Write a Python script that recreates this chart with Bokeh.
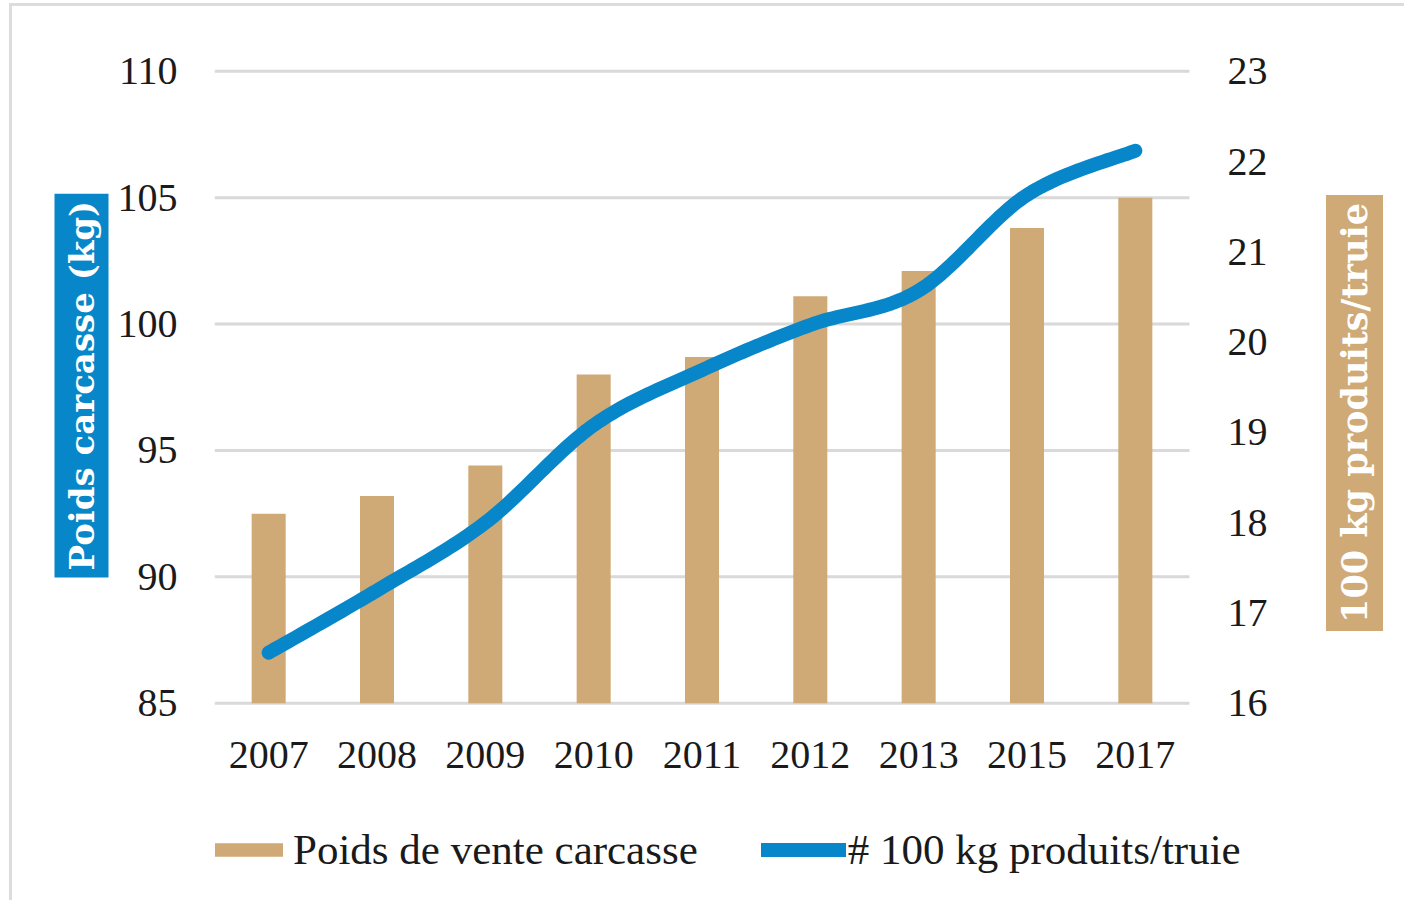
import numpy as np
from bokeh.plotting import figure
from bokeh.models import (Range1d, FixedTicker, Title, Label, Legend, LegendItem)
from bokeh.core.properties import value
from bokeh.embed import file_html
from bokeh.resources import INLINE

years = ["2007", "2008", "2009", "2010", "2011", "2012", "2013", "2015", "2017"]
poids = [92.5, 93.2, 94.4, 98.0, 98.7, 101.1, 102.1, 103.8, 105.0]
produits = [16.56, 17.25, 18.0, 19.08, 19.69, 20.19, 20.57, 21.63, 22.12]
left_ticks = [85, 90, 95, 100, 105, 110]
right_ticks = [16, 17, 18, 19, 20, 21, 22, 23]

TAN = "#CFA976"
BLUE = "#0787C9"
GRID = "#D9D9D9"
SERIF = "Liberation Serif"

W, H = 1395, 897
CANVAS_TOP = 7                        # page offset of the canvas
TOP, BOTTOM, LEFT, RIGHT = 20, 8, 202, 0
Y110 = 71.75                          # pixel row of the 110 grid line
PX = 632 / 25.0                       # pixels per left-axis unit
PXX = 975 / 9.0                       # pixels per category
FRAME_H = H - TOP - BOTTOM
FRAME_W = W - LEFT - RIGHT
y_top = 110 + (Y110 - (CANVAS_TOP + TOP)) / PX
y_bot = y_top - FRAME_H / PX
to_right = lambda v: 16 + (v - 85) * 7 / 25.0
n_cat = len(years)

xs = [i + 0.5 for i in range(n_cat)]

p = figure(width=W, height=H, output_backend="svg", toolbar_location=None,
           x_range=Range1d(0, FRAME_W / PXX), y_range=Range1d(y_bot, y_top),
           min_border_left=LEFT, min_border_right=RIGHT, min_border_top=TOP,
           min_border_bottom=BOTTOM)
p.styles = {"border-top": "3px solid #DCDCDC", "border-left": "3px solid #DCDCDC",
            "margin-left": "9px", "margin-top": "3px"}
p.outline_line_color = None
p.background_fill_color = "white"
p.border_fill_color = "white"
p.extra_y_ranges = {"right": Range1d(to_right(y_bot), to_right(y_top))}

# horizontal grid lines across the category area
p.segment(x0=[0] * len(left_ticks), x1=[n_cat] * len(left_ticks), y0=left_ticks, y1=left_ticks,
          line_color=GRID, line_width=3)

bars = p.vbar(x=xs, top=poids, bottom=85, width=0.314, fill_color=TAN, line_color=None)

# smoothed line (Catmull-Rom Bezier through the data points, like Excel's smoothing)
pts = np.column_stack([xs, produits])
n = len(pts)
cx, cy = [], []
for i in range(n - 1):
    p0 = pts[i - 1] if i > 0 else pts[i]
    p1, p2 = pts[i], pts[i + 1]
    p3 = pts[i + 2] if i + 2 < n else pts[i + 1]
    c1 = p1 + (p2 - p0) / 6.0
    c2 = p2 - (p3 - p1) / 6.0
    ts = np.linspace(0, 1, 25) if i == n - 2 else np.linspace(0, 1, 25)[:-1]
    for t in ts:
        b = ((1 - t) ** 3) * p1 + 3 * ((1 - t) ** 2) * t * c1 + 3 * (1 - t) * t * t * c2 + t ** 3 * p2
        cx.append(b[0]); cy.append(b[1])
line = p.line(cx, cy, y_range_name="right", line_color=BLUE, line_width=14, line_cap="round",
              line_join="round")

# category labels under the bars
y_lab = 85 - 52 / PX
p.text(x=xs, y=[y_lab] * n_cat, text=years, text_align="center", text_baseline="middle",
       text_font=value(SERIF), text_font_size="40px", text_color="#1a1a1a")

# right-hand scale labels
x_rlab = n_cat + 38 / PXX
p.text(x=[x_rlab] * len(right_ticks), y=right_ticks, y_range_name="right",
       text=[str(t) for t in right_ticks], text_align="left", text_baseline="middle",
       text_font=value(SERIF), text_font_size="40px", text_color="#1a1a1a")

# left axis
p.xaxis.visible = False
ax = p.yaxis[0]
ax.ticker = FixedTicker(ticks=left_ticks)
ax.axis_line_color = None
ax.major_tick_line_color = None
ax.minor_tick_line_color = None
ax.major_label_text_font = SERIF
ax.major_label_text_font_size = "40px"
ax.major_label_text_color = "#1a1a1a"
ax.major_label_standoff = 31
p.xgrid.grid_line_color = None
p.ygrid.grid_line_color = None

# axis title boxes
lt = Title(text="Poids carcasse (kg)", align="left", offset=318, text_color="white",
           text_font="DejaVu Serif", text_font_style="bold", text_font_size="34px",
           background_fill_color=BLUE, padding=7, standoff=12)
p.add_layout(lt, "left")
rt = Label(x=n_cat + 165 / PXX, y=110 - (413.5 - Y110) / PX, text="100 kg produits/truie",
           angle=np.pi / 2, text_align="center", text_baseline="middle", text_color="white",
           text_font="DejaVu Serif", text_font_style="bold", text_font_size="35px",
           background_fill_color=TAN, padding=8)
p.add_layout(rt)

legend = Legend(items=[LegendItem(label="Poids de vente carcasse", renderers=[bars]),
                       LegendItem(label="# 100 kg produits/truie", renderers=[line])],
                orientation="horizontal", location=(-8, 21), padding=0, margin=0,
                spacing=63, glyph_width=85, glyph_height=17, label_standoff=2,
                label_text_font=SERIF, label_text_font_size="43px", label_height=46,
                label_text_color="#1a1a1a",
                border_line_color=None, background_fill_alpha=0)
p.add_layout(legend, "center")

open("out.html", "w").write(file_html(p, INLINE))
